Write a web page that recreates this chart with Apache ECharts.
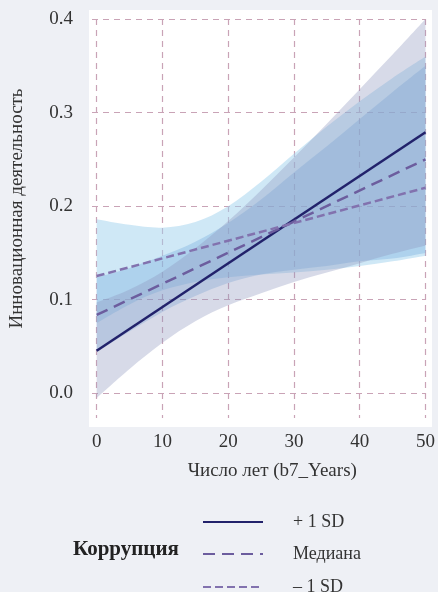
<!DOCTYPE html>
<html>
<head>
<meta charset="utf-8">
<script src="https://cdn.jsdelivr.net/npm/echarts@6/dist/echarts.min.js"></script>
<style>
html,body{margin:0;padding:0;background:#eef0f5;}
#chart{width:438px;height:592px;}
</style>
</head>
<body>
<div id="chart"></div>
<script>
// ---- data ----
const bandX = [0, 5, 10, 15, 20, 25, 30, 35, 40, 45, 50];
const plus1Lower  = [-0.005, 0.026, 0.054, 0.077, 0.094, 0.107, 0.119, 0.129, 0.139, 0.149, 0.158];
const plus1Upper  = [0.097, 0.111, 0.130, 0.155, 0.184, 0.217, 0.252, 0.288, 0.325, 0.362, 0.400];
const medLower    = [0.044, 0.066, 0.087, 0.104, 0.118, 0.127, 0.132, 0.136, 0.141, 0.144, 0.150];
const medUpper    = [0.124, 0.134, 0.147, 0.162, 0.182, 0.207, 0.236, 0.264, 0.293, 0.322, 0.350];
const minus1Lower = [0.075, 0.095, 0.110, 0.119, 0.124, 0.127, 0.129, 0.132, 0.136, 0.141, 0.147];
const minus1Upper = [0.186, 0.180, 0.177, 0.183, 0.200, 0.226, 0.256, 0.285, 0.312, 0.337, 0.360];

const lineX = [0, 50];
const plus1Line  = [0.0455, 0.279];
const medLine    = [0.0837, 0.250];
const minus1Line = [0.1253, 0.2197];

const xTicks = [0, 10, 20, 30, 40, 50];
const yTicks = [0, 0.1, 0.2, 0.3, 0.4];

const seriesNames = ['+ 1 SD', 'Медиана', '– 1 SD'];
const legendTitle = 'Коррупция';
const xName = 'Число лет (b7_Years)';
const yName = 'Инновационная деятельность';

// ---- build ----
const FONT = 'Liberation Serif';
const chart = echarts.init(document.getElementById('chart'));

function pairs(xs, ys) { return xs.map((x, i) => [x, ys[i]]); }

// smooth open curve through pixel points (Catmull-Rom -> cubic bezier)
function curveCmds(pts) {
  let d = '';
  for (let i = 0; i < pts.length - 1; i++) {
    const p0 = pts[Math.max(i - 1, 0)], p1 = pts[i], p2 = pts[i + 1], p3 = pts[Math.min(i + 2, pts.length - 1)];
    const c1 = [p1[0] + (p2[0] - p0[0]) / 6, p1[1] + (p2[1] - p0[1]) / 6];
    const c2 = [p2[0] - (p3[0] - p1[0]) / 6, p2[1] - (p3[1] - p1[1]) / 6];
    d += ' C' + c1[0] + ' ' + c1[1] + ' ' + c2[0] + ' ' + c2[1] + ' ' + p2[0] + ' ' + p2[1];
  }
  return d;
}

function band(lo, hi, color) {
  return {
    type: 'custom', silent: true, z: 1,
    data: bandX.map((x, i) => [x, lo[i], hi[i]]),
    encode: { x: 0, y: [1, 2] },
    renderItem: function (params, api) {
      if (params.dataIndex !== 0) return null;
      const up = bandX.map((x, i) => api.coord([x, hi[i]]));
      const dn = bandX.map((x, i) => api.coord([x, lo[i]])).reverse();
      const d = 'M' + up[0][0] + ' ' + up[0][1] + curveCmds(up) +
                ' L' + dn[0][0] + ' ' + dn[0][1] + curveCmds(dn) + ' Z';
      return { type: 'path', shape: { pathData: d }, style: { fill: color } };
    }
  };
}

const gridLine = { show: true, lineStyle: { color: '#c9a3b6', width: 1.2, type: [6, 5] } };

function legendItem(name, centerY) {
  return {
    data: [name], left: 202, top: centerY - 7, padding: 0,
    itemWidth: 60, itemHeight: 14,
    itemStyle: { opacity: 0 },
    textStyle: { fontFamily: FONT, fontSize: 18, color: '#333', padding: [0, 0, 0, 25] },
    selectedMode: false
  };
}

const option = {
  backgroundColor: '#eef0f5',
  animation: false,
  graphic: [
    { type: 'rect', z: -10, shape: { x: 89, y: 10, width: 343, height: 417 }, style: { fill: '#ffffff' } },
    { type: 'text', left: 73, top: 539, style: { text: legendTitle, font: 'bold 21px "Liberation Serif"', fill: '#222' } }
  ],
  grid: { left: 92, right: 10, top: 19, bottom: 174 },
  xAxis: {
    type: 'value', min: -0.709, max: 50,
    name: xName, nameLocation: 'middle', nameGap: 44,
    nameTextStyle: { fontFamily: FONT, fontSize: 19, color: '#333', padding: [0, 0, 0, 27] },
    axisLine: { show: false },
    axisTick: { show: false, customValues: xTicks },
    axisLabel: { customValues: xTicks, margin: 15, fontFamily: FONT, fontSize: 19, color: '#333' },
    splitLine: gridLine
  },
  yAxis: {
    type: 'value', min: -0.0264, max: 0.4,
    name: yName, nameLocation: 'middle', nameGap: 65,
    nameTextStyle: { fontFamily: FONT, fontSize: 19, color: '#333', padding: [0, 0, 0, 20] },
    axisLine: { show: false },
    axisTick: { show: false, customValues: yTicks },
    axisLabel: { customValues: yTicks, margin: 19, fontFamily: FONT, fontSize: 19, color: '#333',
      formatter: v => v.toFixed(1) },
    splitLine: gridLine
  },
  legend: [legendItem(seriesNames[0], 520), legendItem(seriesNames[1], 552), legendItem(seriesNames[2], 585)],
  series: [
    band(minus1Lower, minus1Upper, 'rgba(160,210,238,0.5)'),
    band(medLower, medUpper, 'rgba(100,160,215,0.3)'),
    band(plus1Lower, plus1Upper, 'rgba(140,150,190,0.35)'),
    { name: seriesNames[0], type: 'line', data: pairs(lineX, plus1Line), symbol: 'none', z: 5,
      lineStyle: { color: '#22226b', width: 2.5, type: 'solid' }, itemStyle: { color: '#22226b' } },
    { name: seriesNames[1], type: 'line', data: pairs(lineX, medLine), symbol: 'none', z: 5,
      lineStyle: { color: '#6c5d9e', width: 2.5, type: [12, 7] }, itemStyle: { color: '#6c5d9e' } },
    { name: seriesNames[2], type: 'line', data: pairs(lineX, minus1Line), symbol: 'none', z: 5,
      lineStyle: { color: '#8272ae', width: 2.5, type: [8, 4] }, itemStyle: { color: '#8272ae' } }
  ]
};
chart.setOption(option);
</script>
</body>
</html>
